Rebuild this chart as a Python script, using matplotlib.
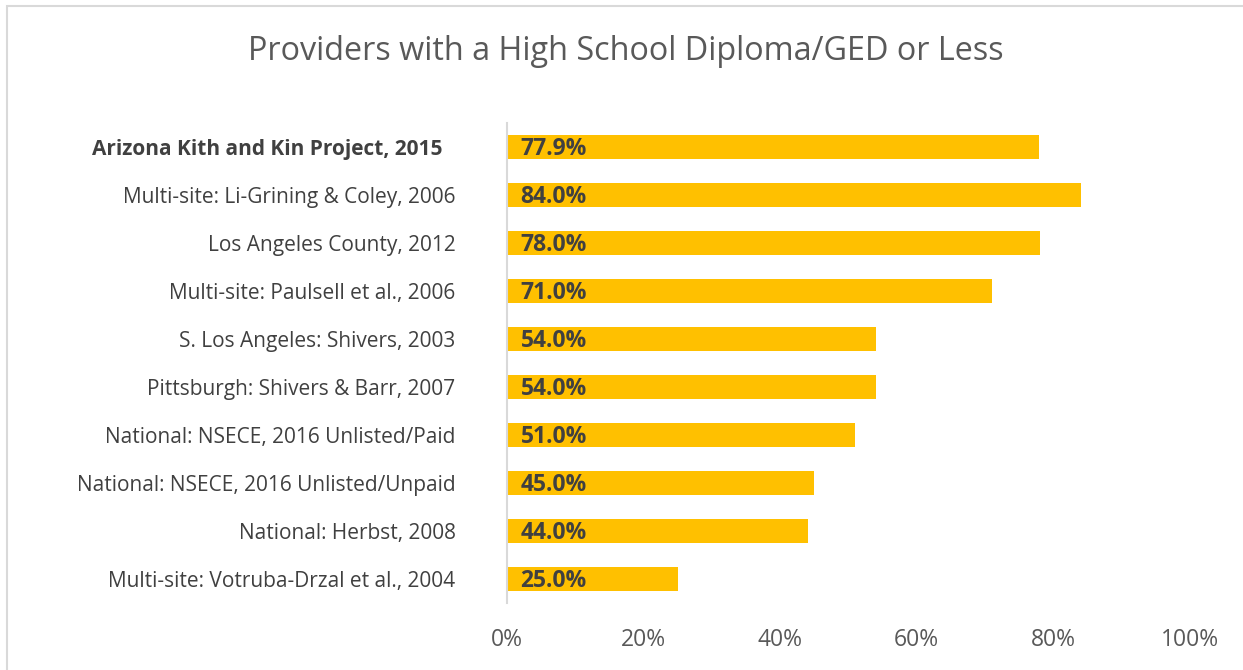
import matplotlib
matplotlib.use("Agg")
import matplotlib.pyplot as plt
import matplotlib.transforms as mtransforms
from matplotlib.patches import Rectangle

categories = [
    "Arizona Kith and Kin Project, 2015",
    "Multi-site: Li-Grining & Coley, 2006",
    "Los Angeles County, 2012",
    "Multi-site: Paulsell et al., 2006",
    "S. Los Angeles: Shivers, 2003",
    "Pittsburgh: Shivers & Barr, 2007",
    "National: NSECE, 2016 Unlisted/Paid",
    "National: NSECE, 2016 Unlisted/Unpaid",
    "National: Herbst, 2008",
    "Multi-site: Votruba-Drzal et al., 2004",
]
values = [77.9, 84.0, 78.0, 71.0, 54.0, 54.0, 51.0, 45.0, 44.0, 25.0]
xticks = [0, 20, 40, 60, 80, 100]
title = "Providers with a High School Diploma/GED or Less"

plt.rcParams['font.family'] = ['Open Sans', 'DejaVu Sans']

W, H = 1243, 670
fig = plt.figure(figsize=(W / 100, H / 100), dpi=100)
ax = fig.add_axes([507 / W, 1 - 603 / H, (1190 - 507) / W, (603 - 123) / H])

y = list(range(len(categories)))
ax.barh(y, values, height=0.5, color="#FFC000")
ax.set_ylim(len(categories) - 0.5, -0.5)
ax.set_xlim(0, 100)
ax.set_xticks(xticks)
ax.set_xticklabels([f"{t}%" for t in xticks], fontsize=16.5, color="#595959")
ax.set_yticks(y)
ax.set_yticklabels(categories, fontsize=15, color="#404040")
ax.tick_params(axis="both", length=0)
ax.tick_params(axis="y", pad=37)
ax.tick_params(axis="x", pad=18)
first = ax.get_yticklabels()[0]
first.set_fontweight("bold")
first.set_transform(first.get_transform() +
                    mtransforms.ScaledTranslation(-0.13, 0, fig.dpi_scale_trans))
for s in ["top", "right", "bottom"]:
    ax.spines[s].set_visible(False)
ax.spines["left"].set_color("#D9D9D9")
ax.spines["left"].set_linewidth(1.5)

for yi, v in zip(y, values):
    ax.text(2, yi + 0.05, f"{v:.1f}%", ha="left", va="center", fontsize=16.5,
            fontweight="bold", color="#404040")

fig.text(626 / W, 1 - 51 / H, title, ha="center", va="center", fontsize=23.3,
         color="#595959")

fig.patches.append(Rectangle((7 / W, -0.01), 1.02, 1 - 6 / H + 0.01,
                             transform=fig.transFigure, fill=False,
                             edgecolor="#D9D9D9", linewidth=1.5))

fig.savefig("out.png", dpi=100)
